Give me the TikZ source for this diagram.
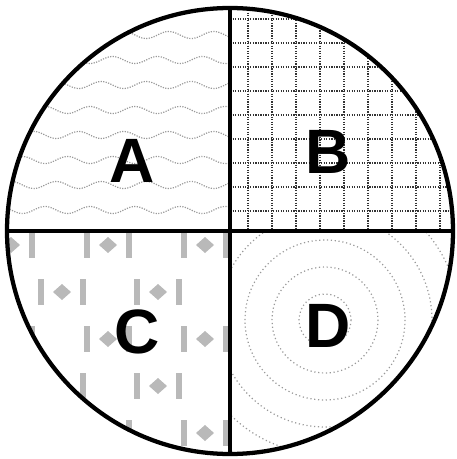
\documentclass[tikz,border=0pt]{standalone}
\usepackage{fontspec}
\setmainfont{Liberation Sans}

\tikzset{
  rim/.style={circle, draw, line width=3.2pt, minimum size=334.5pt, inner sep=0pt, outer sep=0pt},
  divider/.style={line width=3.2pt},
  quadlabel/.style={font=\fontsize{47}{47}\selectfont\bfseries, inner sep=0pt},
  wave/.style={gray!80, densely dotted, line width=0.9pt},
  gridline/.style={black!80, densely dotted, line width=0.9pt},
  ring/.style={gray!80, dotted, line width=0.9pt},
  flagmark/.pic={
    \fill[gray!55] (-24,-13) rectangle (-18,13);
    \fill[gray!55] (18,-13) rectangle (24,13);
    \fill[gray!55] (-9,0) -- (0,-8) -- (9,0) -- (0,8) -- cycle;
  },
}

\begin{document}
\begin{tikzpicture}[x=0.75pt, y=-0.75pt]
  \useasboundingbox (0,0) rectangle (456,459);

  % A: waves
  \begin{scope}
    \clip (230,231) circle (223);
    \clip (0,0) rectangle (230,231);
    \foreach \r in {0,...,8} {
      \pgfmathsetmacro\yy{35+25*\r}
      \draw[wave] plot[domain=0:232, samples=120] (\x, {\yy + 3.5*sin(8*\x + 90*\r)});
    }
  \end{scope}

  % B: grid
  \begin{scope}
    \clip (230,231) circle (223);
    \clip (230,0) rectangle (456,231);
    \foreach \i in {248,272,...,456}
      \draw[gridline] (\i,0) -- (\i,231);
    \foreach \j in {19,43,...,231}
      \draw[gridline] (230,\j) -- (456,\j);
  \end{scope}

  % C: flags
  \begin{scope}
    \clip (230,231) circle (223);
    \clip (0,231) rectangle (230,459);
    \foreach \k in {0,2,4}
      \foreach \m in {11,108,205}
        \pic at (\m,{245+47*\k}) {flagmark};
    \foreach \k in {1,3}
      \foreach \m in {62,158,255}
        \pic at (\m,{245+47*\k}) {flagmark};
  \end{scope}

  % D: rings
  \begin{scope}
    \clip (230,231) circle (223);
    \clip (230,231) rectangle (456,459);
    \foreach \rad in {26,53,...,215}
      \draw[ring] (325,320) circle (\rad);
  \end{scope}

  \node[rim] (disc) at (230,231) {};
  \draw[divider] (disc.north) -- (disc.south);
  \draw[divider] (disc.west) -- (disc.east);

  \node[quadlabel] (A) at (132,161) {A};
  \node[quadlabel] (B) at (328,152) {B};
  \node[quadlabel] (C) at (137,332) {C};
  \node[quadlabel] (D) at (328,326) {D};
\end{tikzpicture}
\end{document}
